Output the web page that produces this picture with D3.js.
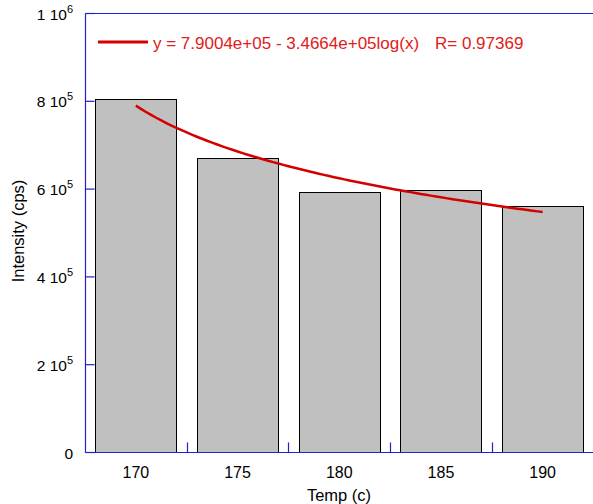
<!DOCTYPE html>
<html>
<head>
<meta charset="utf-8">
<script src="https://cdn.jsdelivr.net/npm/d3@7"></script>
<style>
  body { margin: 0; background: #fff; }
  text { font-family: "Liberation Sans", Arial, sans-serif; }
</style>
</head>
<body>
<div id="chart"></div>
<script>
// data
var temps = ['170', '175', '180', '185', '190'];
var intensity = [806000, 670000, 593000, 598000, 561000];
var yTicks = [0, 200000, 400000, 600000, 800000, 1000000];
var yTickLabels = [['0', ''], ['2 10', '5'], ['4 10', '5'], ['6 10', '5'], ['8 10', '5'], ['1 10', '6']];
// fit: y = a - b*log10(x), x = 1..n
var fitA = 7.9004e+05, fitB = 3.4664e+05, fitR = '0.97369';

var width = 593, height = 504;
var margin = {left: 85, top: 13, right: 0, bottom: 51};
var axisColor = '#2020cc';

var svg = d3.select('#chart').append('svg')
  .attr('width', width)
  .attr('height', height);

var x = d3.scaleBand()
  .domain(temps)
  .range([margin.left, width + 0.5])
  .paddingInner(0.2)
  .paddingOuter(0.1);

var y = d3.scaleLinear()
  .domain([0, 1000000])
  .range([height - margin.bottom - 0.5, margin.top + 0.5]);

// bars
svg.append('g').selectAll('rect')
  .data(intensity)
  .enter().append('rect')
  .attr('x', function(d, i) { return Math.round(x(temps[i])) + 0.5; })
  .attr('y', function(d) { return Math.round(y(d)) + 0.5; })
  .attr('width', Math.round(x.bandwidth()))
  .attr('height', function(d) { return y(0) - Math.round(y(d)) - 0.5; })
  .attr('fill', '#c0c0c0')
  .attr('stroke', '#000')
  .attr('stroke-width', 1);

// axes frame
var x0 = margin.left + 0.5, yb = y(0), yt = y(1000000);
svg.append('line').attr('x1', x0).attr('x2', x0).attr('y1', yt).attr('y2', yb)
  .attr('stroke', axisColor).attr('stroke-width', 1.2);
svg.append('line').attr('x1', x0).attr('x2', width).attr('y1', yt).attr('y2', yt)
  .attr('stroke', axisColor).attr('stroke-width', 1.2);
svg.append('line').attr('x1', x0).attr('x2', width).attr('y1', yb).attr('y2', yb)
  .attr('stroke', axisColor).attr('stroke-width', 1.2);

// y ticks (inward)
svg.append('g').selectAll('line')
  .data(yTicks)
  .enter().append('line')
  .attr('x1', x0).attr('x2', x0 + 9)
  .attr('y1', function(d) { return y(d); })
  .attr('y2', function(d) { return y(d); })
  .attr('stroke', axisColor).attr('stroke-width', 1.2);

var yl = svg.append('g').selectAll('text')
  .data(yTicks)
  .enter().append('text')
  .attr('x', 73)
  .attr('y', function(d) { return y(d) + 6; })
  .attr('text-anchor', 'end')
  .attr('font-size', 15.5)
  .attr('fill', '#000');
yl.append('tspan').text(function(d, i) { return yTickLabels[i][0]; });
yl.append('tspan')
  .attr('dy', -7)
  .attr('font-size', 11)
  .text(function(d, i) { return yTickLabels[i][1]; });

// x ticks at band boundaries (inward)
var step = x.step();
var bounds = temps.map(function(t) { return x(t) - step * 0.1; });
svg.append('g').selectAll('line')
  .data(bounds.slice(1))
  .enter().append('line')
  .attr('x1', function(d) { return Math.round(d) + 0.5; })
  .attr('x2', function(d) { return Math.round(d) + 0.5; })
  .attr('y1', yb).attr('y2', yb - 10)
  .attr('stroke', axisColor).attr('stroke-width', 1.2);

svg.append('g').selectAll('text')
  .data(temps)
  .enter().append('text')
  .attr('x', function(d) { return x(d) + x.bandwidth() / 2; })
  .attr('y', yb + 25)
  .attr('text-anchor', 'middle')
  .attr('font-size', 16)
  .text(function(d) { return d; });

// axis titles
svg.append('text')
  .attr('x', 339).attr('y', 501)
  .attr('text-anchor', 'middle')
  .attr('font-size', 16.5)
  .text('Temp (c)');
svg.append('text')
  .attr('transform', 'translate(24,231) rotate(-90)')
  .attr('text-anchor', 'middle')
  .attr('font-size', 16.5)
  .text('Intensity (cps)');

// fit curve
var fitPts = d3.range(0, 4.001, 0.05).map(function(t) {
  return [t, fitA - fitB * Math.log10(t + 1)];
});
var px = function(t) { return x(temps[0]) + x.bandwidth() / 2 + t * step; };
svg.append('path')
  .datum(fitPts)
  .attr('d', d3.line().x(function(d) { return px(d[0]); }).y(function(d) { return y(d[1]); }))
  .attr('fill', 'none')
  .attr('stroke', '#d40000')
  .attr('stroke-width', 2.5);

// legend
svg.append('line')
  .attr('x1', 98).attr('x2', 148).attr('y1', 42).attr('y2', 42)
  .attr('stroke', '#d40000').attr('stroke-width', 3);
var lg = svg.append('text')
  .attr('y', 49)
  .attr('font-size', 17)
  .attr('fill', '#e02020');
lg.append('tspan').attr('x', 153).text('y = 7.9004e+05 - 3.4664e+05log(x)');
lg.append('tspan').attr('x', 435).text('R= ' + fitR);
</script>
</body>
</html>
